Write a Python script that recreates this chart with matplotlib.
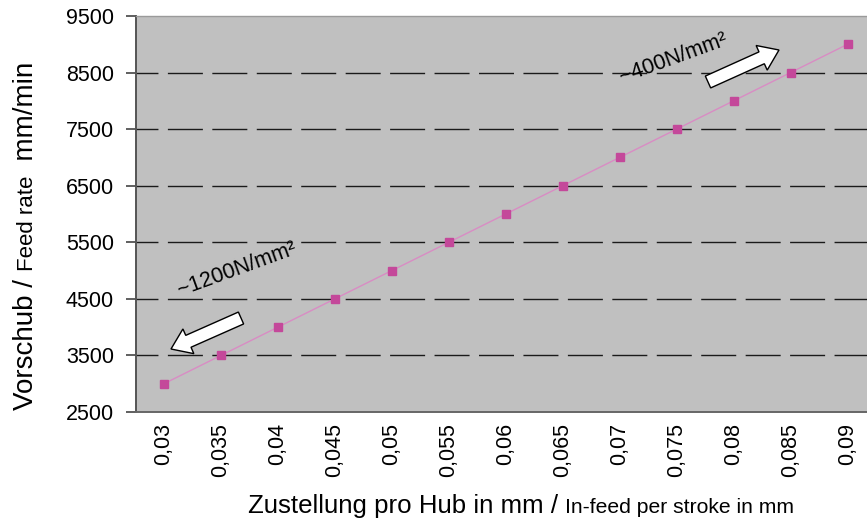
import matplotlib
matplotlib.use("Agg")
import matplotlib.pyplot as plt
from matplotlib.transforms import IdentityTransform
from matplotlib.patches import FancyArrow

plt.rcParams['font.family'] = ['Liberation Sans', 'DejaVu Sans']
plt.rcParams['lines.scale_dashes'] = False

categories = ["0,03", "0,035", "0,04", "0,045", "0,05", "0,055", "0,06",
              "0,065", "0,07", "0,075", "0,08", "0,085", "0,09"]
feed_rate = [3000, 3500, 4000, 4500, 5000, 5500, 6000, 6500, 7000, 7500, 8000, 8500, 9000]
yticks = [2500, 3500, 4500, 5500, 6500, 7500, 8500, 9500]

W, H = 867, 520
fig = plt.figure(figsize=(W / 100, H / 100), dpi=100)
ax = fig.add_axes([135.5 / W, (H - 412) / H, (876 - 135.5) / W, (412 - 16) / H])
ax.set_facecolor('#c0c0c0')

x = list(range(len(categories)))
ax.plot(x, feed_rate, color='#d98cc4', lw=1.0, zorder=3)
ax.plot(x, feed_rate, ls='none', marker='s', ms=5.8, color='#c4489a',
        mec='#c4489a', zorder=4)

ax.set_xlim(-0.5, len(categories) - 0.5)
ax.set_ylim(2500, 9500)
ax.set_xticks(x)
ax.set_xticklabels(categories, rotation=90, fontsize=15.5)
ax.set_yticks(yticks)
ax.set_yticklabels([str(v) for v in yticks], fontsize=15.5)
ax.tick_params(axis='x', length=0, pad=8)
ax.tick_params(axis='y', length=7, width=1.2, color='#444444', pad=8.5)

for v in yticks[1:-1]:
    ax.axhline(v, color='#1a1a1a', lw=1.0, ls=(9.4, (25.2, 6.8)), zorder=2)

ax.spines['left'].set_color('#555555')
ax.spines['left'].set_linewidth(1.4)
ax.spines['bottom'].set_color('#666666')
ax.spines['bottom'].set_linewidth(1.4)
ax.spines['top'].set_color('#9a9a9a')
ax.spines['top'].set_linewidth(1.0)
ax.spines['right'].set_visible(False)

fig.canvas.draw()
renderer = fig.canvas.get_renderer()

# x label: mixed sizes
pieces_x = [("Zustellung pro Hub in mm / ", 18.6), ("In-feed per stroke in mm", 15.2)]
cx = 248
for s, fs in pieces_x:
    t = fig.text(cx, H - 513, s, fontsize=fs, transform=IdentityTransform(),
                 ha='left', va='baseline')
    bb = t.get_window_extent(renderer)
    cx += bb.width

# y label: mixed sizes, rotated
pieces_y = [("Vorschub / ", 20.0), ("Feed rate", 16.0), ("  mm/min", 20.0)]
cy = H - 410
for s, fs in pieces_y:
    t = fig.text(33, cy, s, fontsize=fs, rotation=90, transform=IdentityTransform(),
                 ha='left', va='baseline', rotation_mode='anchor')
    bb = t.get_window_extent(renderer)
    cy += bb.height

# annotations
ax.text(0.137, 0.36, "~1200N/mm²", transform=ax.transAxes, rotation=20,
        fontsize=15.5, ha='center', va='center', color='black')
ax.text(0.726, 0.894, "~400N/mm²", transform=ax.transAxes, rotation=20,
        fontsize=15.5, ha='center', va='center', color='black')

def block_arrow(x0, y0, x1, y1):
    a = FancyArrow(x0, H - y0, x1 - x0, -(y1 - y0), width=13, head_width=27,
                   head_length=19, length_includes_head=True,
                   transform=IdentityTransform(), facecolor='white',
                   edgecolor='black', lw=1.0, zorder=6)
    fig.add_artist(a)

block_arrow(241, 318, 171, 349)
block_arrow(708, 82, 779, 50)

fig.savefig("out.png", dpi=100)
